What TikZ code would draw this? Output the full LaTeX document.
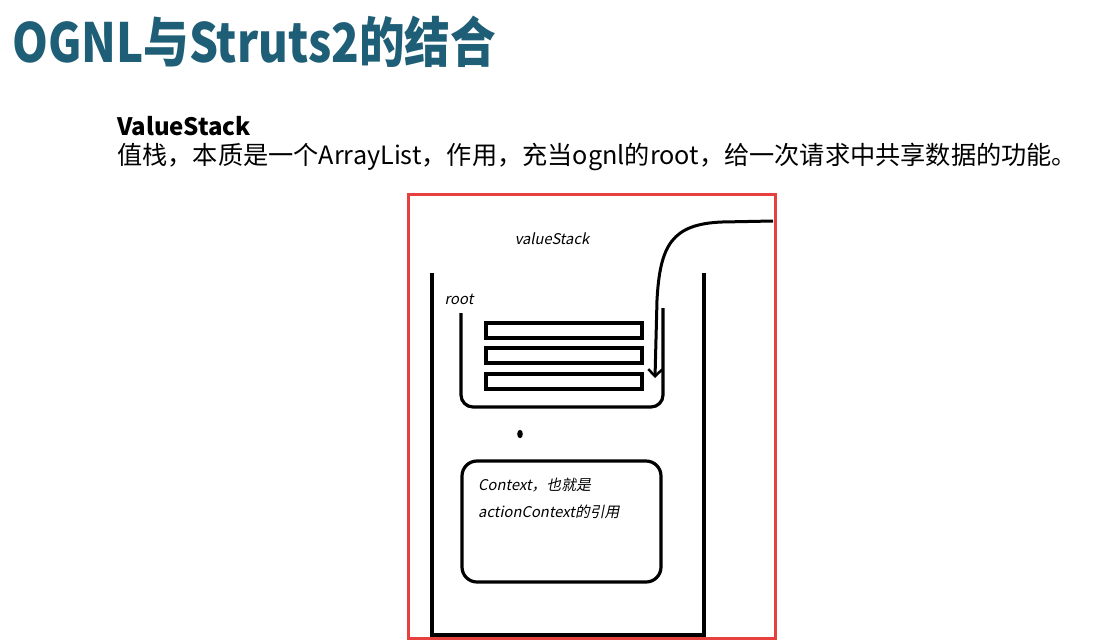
\documentclass[tikz,border=0pt]{standalone}
\usepackage{fontspec}
\usepackage{graphicx}
\usetikzlibrary{arrows.meta}
\newfontfamily\cjk{Noto Sans CJK SC}
\newfontfamily\cjki[FakeSlant=0.2]{Noto Sans CJK SC}
\definecolor{titlec}{HTML}{1F5E77}
\definecolor{redc}{HTML}{E8403F}
\tikzset{
  blk/.style={draw=black, line width=3.2pt},
  bar/.style={draw=black, line width=3.2pt},
  dtext/.style={font=\cjki\fontsize{14.8}{16}\selectfont, inner sep=0pt},
}
\begin{document}
\begin{tikzpicture}[x=1pt,y=-1pt]
\useasboundingbox (0,0) rectangle (1113,641);
\fill[white] (0,0) rectangle (1113,641);
% title
\node[anchor=west, inner sep=0pt, text=titlec] (title) at (12,42)
  {\scalebox{0.845}[1]{\cjk\bfseries\fontsize{54}{60}\selectfont OGNL与Struts2的结合}};
\node[anchor=west, inner sep=0pt] (vs) at (117,126)
  {\cjk\bfseries\fontsize{24}{28}\selectfont ValueStack};
\node[anchor=west, inner sep=0pt] (desc) at (117,157)
  {\cjk\fontsize{25.2}{28}\selectfont 值栈，本质是一个ArrayList，作用，充当ognl的root，给一次请求中共享数据的功能。};
% red frame
\fill[white] (408,194) rectangle (775,638);
\draw[redc, line width=3pt] (408,194) rectangle (775,638);
% outer stack
\draw[blk] (432,273) -- (432,635) -- (704,635) -- (704,273);
\node[dtext] (vstack) at (552,239) {valueStack};
\node[dtext] (root) at (459,299) {root};
% U container
\draw[blk, rounded corners=12pt] (461,313) -- (461,407) -- (663,407) -- (663,308);
% bars
\draw[bar] (486,323) rectangle (642,338);
\draw[bar] (486,348) rectangle (642,363);
\draw[bar] (486,374) rectangle (642,389);
% arrow
\coordinate (arrS) at (773,221);
\coordinate (arrE) at (655,378);
\draw[black, line width=3pt, -{Straight Barb[length=7pt,width=14pt,line width=2.5pt]}]
  (arrS) -- (722,222) .. controls (672,224) and (660,245) .. (657,300) -- (arrE);
% dot
\fill (520,434) ellipse (2.8 and 4.2);
% context box
\draw[blk, rounded corners=15pt] (462,461) rectangle (661,582);
\node[dtext, anchor=west] (ctx1) at (478,485) {Context，也就是};
\node[dtext, anchor=west] (ctx2) at (478,512) {actionContext的引用};
\end{tikzpicture}
\end{document}
